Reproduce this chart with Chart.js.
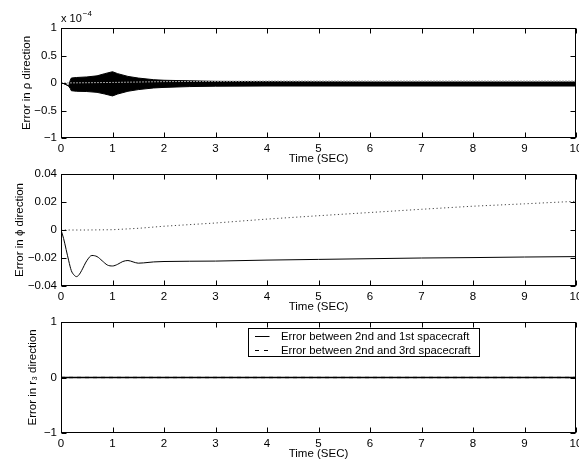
<!DOCTYPE html>
<html><head><meta charset="utf-8">
<script src="https://cdn.jsdelivr.net/npm/chart.js@4/dist/chart.umd.min.js"></script>
<style>
html,body{margin:0;padding:0;background:#fff;overflow:hidden;width:579px;height:462px;position:relative;}
canvas{position:absolute;left:0;}
</style></head><body>
<canvas id="c1" width="600" height="168" style="top:0px"></canvas>
<canvas id="c2" width="600" height="170" style="top:146px"></canvas>
<canvas id="c3" width="600" height="169" style="top:294px"></canvas>
<script>
// ---------- data ----------
const xTicks = [0,1,2,3,4,5,6,7,8,9,10];
const xTitle = 'Time (SEC)';
const legendLabels = ['Error between 2nd and 1st spacecraft','Error between 2nd and 3rd spacecraft'];

// panel 1: rho error (units of 1e-4), envelope of the fast oscillation
const rhoTime  = [0,0.05,0.1,0.15,0.18,0.2,0.3,0.5,0.7,0.85,1.0,1.1,1.3,1.5,1.8,2.0,2.5,3.0,4.0,6.0,8.0,10.0];
const rhoUpper = [0,-0.01,-0.03,-0.05,0.05,0.09,0.10,0.11,0.13,0.17,0.205,0.17,0.12,0.09,0.06,0.05,0.04,0.03,0.025,0.02,0.02,0.02];
const rhoLower = [0,-0.01,-0.03,-0.06,-0.10,-0.14,-0.15,-0.155,-0.17,-0.20,-0.235,-0.20,-0.15,-0.12,-0.09,-0.08,-0.065,-0.058,-0.055,-0.055,-0.055,-0.055];
const rhoOtherTime = [0,1,2,4,7,10];
const rhoOther     = [0,0.01,0.025,0.035,0.035,0.035];
const rhoTicks = [-1,-0.5,0,0.5,1];
const rhoTitle = 'Error in \u03C1 direction';
const rhoExponent = '\u22124';

// panel 2: phi error
const phiTime21 = [0,0.05,0.1,0.15,0.2,0.25,0.3,0.35,0.4,0.5,0.6,0.7,0.8,0.9,1.0,1.1,1.2,1.3,1.4,1.5,1.6,1.8,2,3,4,5,6,7,8,9,10];
const phi21     = [0,-0.006,-0.014,-0.022,-0.029,-0.032,-0.0333,-0.032,-0.029,-0.022,-0.0182,-0.019,-0.022,-0.025,-0.0257,-0.0245,-0.0225,-0.0218,-0.0228,-0.0237,-0.0235,-0.0228,-0.0225,-0.0222,-0.0215,-0.021,-0.0205,-0.020,-0.0197,-0.0193,-0.019];
const phiTime23 = [0,0.5,1.0,1.5,2,3,4,5,6,7,8,9,10];
const phi23     = [0,0,0.0002,0.0012,0.0027,0.005,0.0078,0.0102,0.0125,0.0148,0.017,0.0187,0.0205];
const phiTicks = [-0.04,-0.02,0,0.02,0.04];
const phiTitle = 'Error in \u03D5 direction';

// panel 3: r3 error
const r3Time = [0,10];
const r3_21 = [0,0];
const r3_23 = [0,0];
const r3Ticks = [-1,0,1];
const r3Title = 'Error in r\u2083 direction';

// ---------- helpers ----------
const FONT = 'Liberation Sans, Arial, Helvetica, sans-serif';
const pts = (xs, ys) => xs.map((x,i)=>({x, y: ys[i]}));
const fmt = v => v < 0 ? '\u2212' + String(Math.abs(v)) : String(v);

const framePlugin = {
  id: 'frame',
  afterDatasetsDraw(chart) {
    const {ctx, chartArea: a} = chart;
    const L = Math.round(a.left)+0.5, R = Math.round(a.right)-0.5, T = Math.round(a.top)+0.5, B = Math.round(a.bottom)-0.5;
    ctx.save();
    ctx.strokeStyle = '#000'; ctx.lineWidth = 1;
    ctx.beginPath();
    chart.scales.x.ticks.forEach(t => {
      const p = Math.round(chart.scales.x.getPixelForValue(t.value)) + 0.5;
      ctx.moveTo(p, B); ctx.lineTo(p, B-5);
      ctx.moveTo(p, T); ctx.lineTo(p, T+5);
    });
    chart.scales.y.ticks.forEach(t => {
      const p = Math.round(chart.scales.y.getPixelForValue(t.value)) + 0.5;
      ctx.moveTo(L, p); ctx.lineTo(L+5, p);
      ctx.moveTo(R, p); ctx.lineTo(R-5, p);
    });
    ctx.stroke();
    ctx.strokeRect(L, T, R-L, B-T);
    const ex = chart.options.plugins.frame && chart.options.plugins.frame.exponent;
    if (ex) {
      ctx.fillStyle = '#000';
      ctx.textBaseline = 'alphabetic'; ctx.textAlign = 'left';
      ctx.font = '11px ' + FONT;
      ctx.fillText('x 10', a.left, a.top - 6);
      const w = ctx.measureText('x 10').width;
      ctx.font = '8px ' + FONT;
      ctx.fillText(ex, a.left + w + 1, a.top - 12);
    }
    ctx.restore();
  }
};

const boxLegend = {
  id: 'boxLegend',
  afterDraw(chart) {
    const o = chart.options.plugins.boxLegend;
    if (!o || !o.show) return;
    const {ctx, chartArea: a} = chart;
    const x0 = Math.round(a.left) + 187.5, y0 = Math.round(a.top) + 6.5, w = 231, h = 28;
    ctx.save();
    ctx.fillStyle = '#fff'; ctx.fillRect(x0, y0, w, h);
    ctx.strokeStyle = '#000'; ctx.lineWidth = 1; ctx.strokeRect(x0, y0, w, h);
    ctx.font = '11.3px ' + FONT; ctx.textBaseline = 'middle'; ctx.textAlign = 'left'; ctx.fillStyle = '#000';
    chart.data.datasets.forEach((ds, i) => {
      const y = Math.round(y0 + 7.5 + i*13.5) + 0.5;
      ctx.setLineDash(ds.legendDash || []);
      ctx.beginPath(); ctx.moveTo(x0 + 6.5, y); ctx.lineTo(x0 + 21, y); ctx.stroke();
      ctx.setLineDash([]);
      ctx.fillText(ds.label, x0 + 32.5, y + 0.5);
    });
    ctx.restore();
  }
};

function xScale() {
  return {
    type: 'linear', min: 0, max: 10,
    afterBuildTicks: s => { s.ticks = xTicks.map(v => ({value: v})); },
    afterFit: s => { s.height = 30; },
    grid: {display: false, drawTicks: false},
    border: {display: false},
    ticks: {padding: 4, color: '#000', font: {family: FONT, size: 11.5}, maxRotation: 0, autoSkip: false, callback: v => fmt(v)},
    title: {display: true, text: xTitle, color: '#000', font: {family: FONT, size: 11.5}, padding: {top: 0, bottom: 2}}
  };
}
function yScale(ticksArr, min, max, title, pad) {
  return {
    type: 'linear', min, max,
    afterBuildTicks: s => { s.ticks = ticksArr.map(v => ({value: v})); },
    afterFit: s => { s.width = 61; },
    grid: {display: false, drawTicks: false},
    border: {display: false},
    ticks: {padding: 4, color: '#000', font: {family: FONT, size: 11.5}, callback: v => fmt(v)},
    title: {display: true, text: title, color: '#000', font: {family: FONT, size: 11.5}, padding: {top: pad, bottom: 0}}
  };
}
function baseOptions(yCfg, extra) {
  return {
    responsive: false, animation: false, devicePixelRatio: 1,
    layout: {padding: {top: 28, right: 24, left: 0, bottom: 0}},
    elements: {point: {radius: 0}, line: {tension: 0}},
    plugins: Object.assign({legend: {display: false}, tooltip: {enabled: false}}, extra || {}),
    scales: {x: xScale(), y: yCfg}
  };
}

// panel 1
new Chart(document.getElementById('c1'), {
  type: 'line',
  data: {datasets: [
    {label: legendLabels[1], data: pts(rhoOtherTime, rhoOther), borderColor: '#9a9a9a', borderWidth: 1, borderDash: [2,1], fill: false},
    {label: legendLabels[0] + ' upper', data: pts(rhoTime, rhoUpper), borderColor: '#000', borderWidth: 1, backgroundColor: '#000', fill: '+1'},
    {label: legendLabels[0] + ' lower', data: pts(rhoTime, rhoLower), borderColor: '#000', borderWidth: 1, fill: false}
  ]},
  options: baseOptions(yScale(rhoTicks, -1, 1, rhoTitle, 20), {frame: {exponent: rhoExponent}}),
  plugins: [framePlugin]
});

// panel 2
new Chart(document.getElementById('c2'), {
  type: 'line',
  data: {datasets: [
    {label: legendLabels[0], data: pts(phiTime21, phi21), borderColor: '#000', borderWidth: 1, tension: 0.3, cubicInterpolationMode: 'monotone', fill: false},
    {label: legendLabels[1], data: pts(phiTime23, phi23), borderColor: '#444', borderWidth: 1, borderDash: [1.2, 2.6], fill: false}
  ]},
  options: baseOptions(yScale(phiTicks, -0.04, 0.04, phiTitle, 13)),
  plugins: [framePlugin]
});

// panel 3
new Chart(document.getElementById('c3'), {
  type: 'line',
  data: {datasets: [
    {label: legendLabels[0], data: pts(r3Time, r3_21), borderColor: '#000', borderWidth: 1.3, fill: false, legendDash: []},
    {label: legendLabels[1], data: pts(r3Time, r3_23), borderColor: '#000', borderWidth: 1.3, borderDash: [4,4], fill: false, legendDash: [4,5]}
  ]},
  options: baseOptions(yScale(r3Ticks, -1, 1, r3Title, 26), {boxLegend: {show: true}}),
  plugins: [framePlugin, boxLegend]
});
</script>
</body></html>
